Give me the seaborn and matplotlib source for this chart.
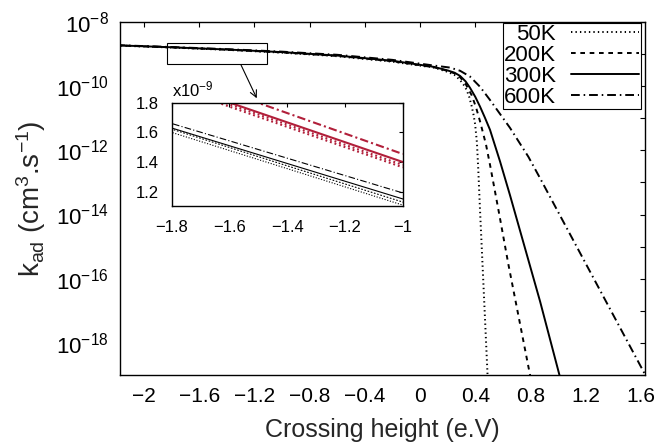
import numpy as np
import pandas as pd
import matplotlib
matplotlib.use("Agg")
import matplotlib.pyplot as plt
import seaborn as sns
from matplotlib.ticker import FixedLocator, FuncFormatter, NullFormatter
from matplotlib.patches import Rectangle
from matplotlib.lines import Line2D

# ---------------- data ----------------
temps = ["50K", "200K", "300K", "600K"]

x_50K = [-2.2, -1.8, -1.4, -1.0, -0.6, -0.2, 0.1, 0.2, 0.25, 0.29, 0.32, 0.338, 0.356, 0.374, 0.388,
         0.399, 0.412, 0.422, 0.435, 0.459, 0.488, 0.492]
logk_50K = [-8.733, -8.796, -8.868, -8.955, -9.066, -9.237, -9.420, -9.553, -9.65, -9.81, -9.98, -10.12,
            -10.33, -10.62, -10.9, -11.18, -11.75, -12.6, -13.9, -16.14, -18.89, -19.3]

x_200K = [-2.2, -1.8, -1.4, -1.0, -0.6, -0.2, 0.1, 0.2, 0.25, 0.29, 0.33, 0.374, 0.405, 0.435, 0.478,
          0.507, 0.57, 0.64, 0.797, 0.805]
logk_200K = [-8.728, -8.790, -8.862, -8.947, -9.056, -9.222, -9.409, -9.523, -9.60, -9.72, -9.93, -10.28,
             -10.65, -11.1, -11.82, -12.45, -13.9, -15.55, -19.0, -19.2]

x_300K = [-2.2, -1.8, -1.4, -1.0, -0.6, -0.2, 0.1, 0.2, 0.25, 0.29, 0.33, 0.362, 0.4, 0.435, 0.47,
          0.507, 0.58, 0.652, 0.87, 1.01, 1.02]
logk_300K = [-8.726, -8.788, -8.857, -8.939, -9.046, -9.208, -9.398, -9.509, -9.58, -9.68, -9.85, -10.05,
             -10.33, -10.64, -10.98, -11.36, -12.35, -13.4, -16.71, -19.0, -19.17]

x_600K = [-2.2, -1.8, -1.4, -1.0, -0.6, -0.2, 0.1, 0.217, 0.29, 0.362, 0.435, 0.507, 0.652, 0.785,
          0.87, 1.594, 1.64]
logk_600K = [-8.721, -8.780, -8.846, -8.924, -9.022, -9.180, -9.357, -9.42, -9.52, -9.70, -10.02, -10.43,
             -11.3, -12.2, -12.87, -18.69, -19.06]

# second (red) set, shown only in the inset, in units of 1e-9
red_x = [-1.8, -1.0]
red_k9_50K = [1.91, 1.364]
red_k9_200K = [1.925, 1.38]
red_k9_300K = [1.935, 1.40]
red_k9_600K = [2.006, 1.454]

xticks = [-2, -1.6, -1.2, -0.8, -0.4, 0, 0.4, 0.8, 1.2, 1.6]
ytick_major_exp = [-8, -10, -12, -14, -16, -18]
ytick_minor_exp = [-9, -11, -13, -15, -17, -19]
inset_xticks = [-1.8, -1.6, -1.4, -1.2, -1.0]
inset_yticks = [1.2, 1.4, 1.6, 1.8]

# ---------------- style ----------------
sns.set_theme(style="white")
plt.rcParams['font.family'] = ['Liberation Sans', 'DejaVu Sans']
plt.rcParams['mathtext.fontset'] = 'custom'
plt.rcParams['mathtext.rm'] = 'Liberation Sans'
plt.rcParams['mathtext.it'] = 'Liberation Sans:italic'
plt.rcParams['mathtext.default'] = 'regular'
plt.rcParams['axes.edgecolor'] = 'black'
plt.rcParams['text.color'] = 'black'
plt.rcParams['xtick.color'] = 'black'
plt.rcParams['ytick.color'] = 'black'

xs = {"50K": x_50K, "200K": x_200K, "300K": x_300K, "600K": x_600K}
lks = {"50K": logk_50K, "200K": logk_200K, "300K": logk_300K, "600K": logk_600K}
reds = {"50K": red_k9_50K, "200K": red_k9_200K, "300K": red_k9_300K, "600K": red_k9_600K}

rows = []
for T in temps:
    for xv, lv in zip(xs[T], lks[T]):
        rows.append({"T": T, "x": xv, "k": 10.0 ** lv})
df = pd.DataFrame(rows)
df["k9"] = df["k"] / 1e-9

red_rows = []
for T in temps:
    for xv, kv in zip(red_x, reds[T]):
        red_rows.append({"T": T, "x": xv, "k9": kv})
df_red = pd.DataFrame(red_rows)

dash_main = {"50K": (0.7, 1.6), "200K": (2.4, 2.4), "300K": "", "600K": (4.5, 2.0, 0.8, 2.0)}

fig = plt.figure(figsize=(6.72, 4.45), dpi=100)
ax = fig.add_axes([120 / 672, 1 - 375 / 445, 525 / 672, 353 / 445])

sns.lineplot(data=df, x="x", y="k", style="T", style_order=temps, dashes=dash_main,
             color="black", lw=1.4, estimator=None, sort=False, ax=ax, legend=False)
ax.set_yscale("log")
ax.set_xlim(-2.174, 1.63)
ax.set_ylim(1e-19, 1e-8)

ax.xaxis.set_major_locator(FixedLocator(xticks))
ax.xaxis.set_major_formatter(FuncFormatter(lambda v, p: f"{v:g}".replace("-", "\u2212")))
ax.yaxis.set_major_locator(FixedLocator([10.0 ** e for e in ytick_major_exp]))
ax.yaxis.set_minor_locator(FixedLocator([10.0 ** e for e in ytick_minor_exp]))
ax.yaxis.set_major_formatter(FuncFormatter(lambda v, p: r"10$^{%d}$" % round(np.log10(v))))
ax.yaxis.set_minor_formatter(NullFormatter())
ax.tick_params(axis="both", which="both", direction="in", top=True, right=True,
               length=3.5, width=0.8)
ax.tick_params(axis="x", labelsize=15, pad=9)
ax.tick_params(axis="y", labelsize=16, pad=8)
for s in ax.spines.values():
    s.set_linewidth(1.0)
ax.set_xlabel("Crossing height (e.V)", fontsize=18, labelpad=8)
ax.set_ylabel(r"k$_{ad}$ (cm$^3$.s$^{-1}$)", fontsize=20, labelpad=6)

# zoom box and arrow
ax.add_patch(Rectangle((-1.835, 10 ** -9.318), 0.724, 10 ** -8.664 - 10 ** -9.318,
                       fill=False, edgecolor="black", lw=0.8, zorder=5))
ax.annotate("", xy=(-1.183, 10 ** -10.377), xytext=(-1.297, 10 ** -9.34),
            arrowprops=dict(arrowstyle="->", lw=0.8, color="black", shrinkA=0, shrinkB=0,
                            mutation_scale=12))

# legend
handles = [Line2D([], [], color="black", lw=1.4,
                  linestyle="-" if dash_main[T] == "" else (0, dash_main[T])) for T in temps]
leg = ax.legend(handles, temps, loc="upper right", bbox_to_anchor=(0.992, 0.998),
                borderaxespad=0, markerfirst=False, fancybox=False, framealpha=1,
                edgecolor="black", fontsize=16, handlelength=3.1, handletextpad=0.65,
                labelspacing=0.0, borderpad=0.06)
leg.get_frame().set_linewidth(0.8)

# inset
axi = fig.add_axes([171.7 / 672, 1 - 206 / 445, 231 / 672, 103.3 / 445])
dash_inset = {"50K": (1, 1.5), "200K": (1.5, 1.5), "300K": "", "600K": (6, 2, 1, 2)}
sns.lineplot(data=df, x="x", y="k9", style="T", style_order=temps, dashes=dash_inset,
             color="black", lw=0.8, estimator=None, sort=False, ax=axi, legend=False)
dash_red = {"50K": (0.9, 1.4), "200K": (0.9, 1.4), "300K": "", "600K": (4, 1.5, 1, 1.5)}
sns.lineplot(data=df_red, x="x", y="k9", style="T", style_order=temps, dashes=dash_red,
             color="#b11f3a", lw=1.5, estimator=None, sort=False, ax=axi, legend=False)
axi.set_xlim(-1.8, -1.0)
axi.set_ylim(1.103, 1.8)
axi.set_xlabel("")
axi.set_ylabel("")
axi.xaxis.set_major_locator(FixedLocator(inset_xticks))
axi.xaxis.set_major_formatter(FuncFormatter(lambda v, p: f"{v:g}".replace("-", "\u2212")))
axi.yaxis.set_major_locator(FixedLocator(inset_yticks))
axi.yaxis.set_major_formatter(FuncFormatter(lambda v, p: f"{v:g}"))
axi.tick_params(axis="both", which="both", direction="in", top=True, right=True,
                length=3, width=0.8, labelsize=12)
axi.tick_params(axis="x", pad=10)
axi.tick_params(axis="y", pad=9)
for s in axi.spines.values():
    s.set_linewidth(1.0)
axi.text(0.0, 1.03, r"x10$^{-9}$", transform=axi.transAxes, ha="left", va="bottom", fontsize=12)

fig.savefig("out.png", dpi=100)
